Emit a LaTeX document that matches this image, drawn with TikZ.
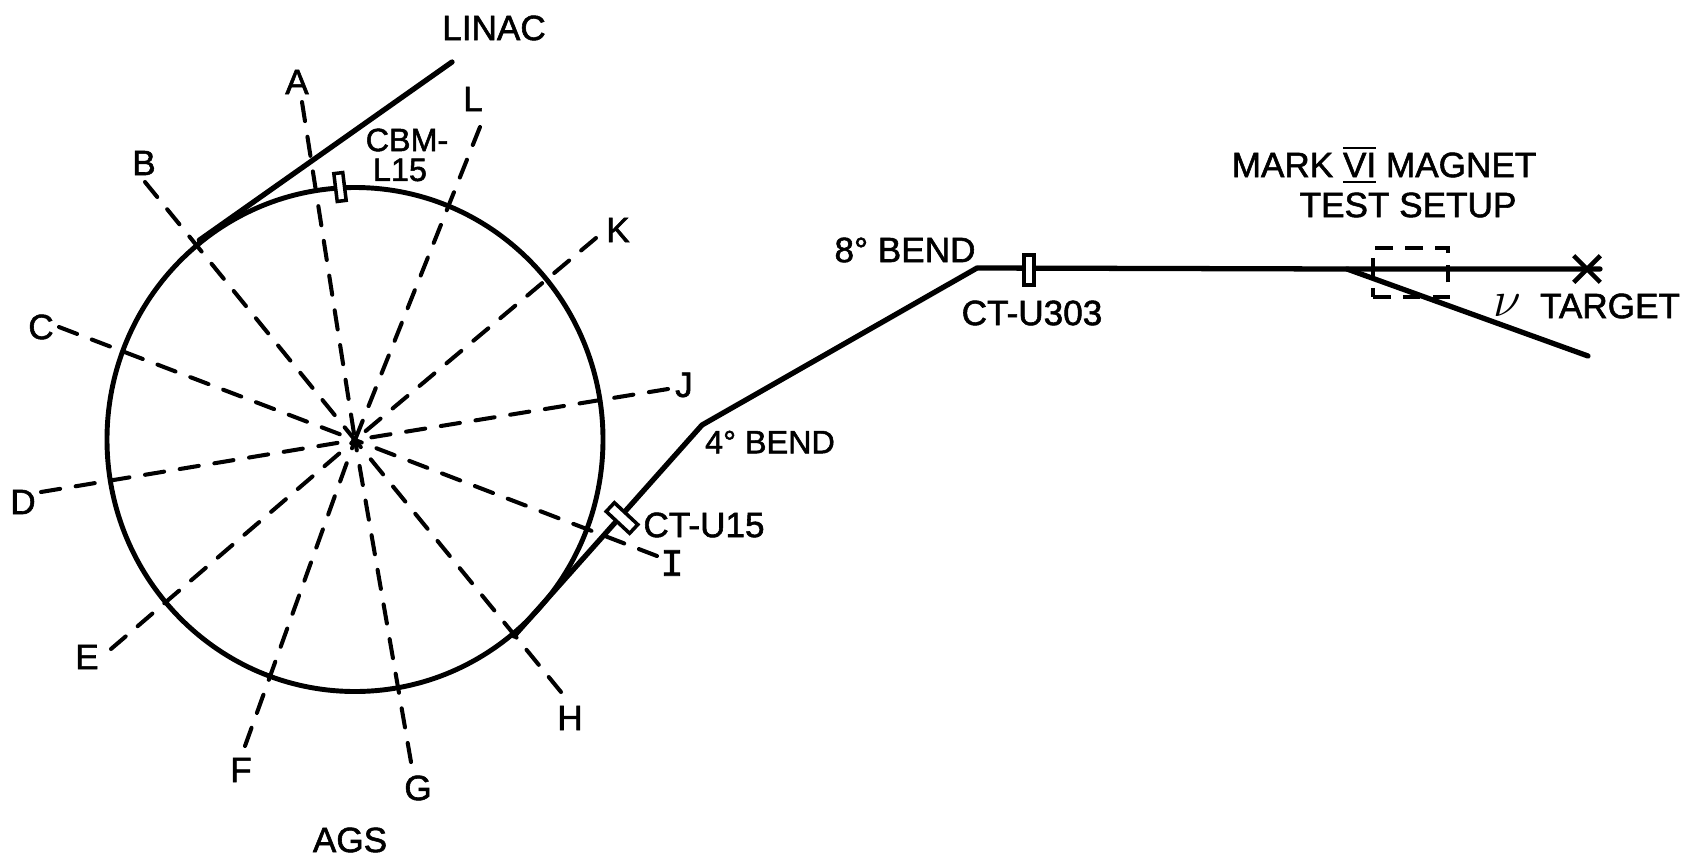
\documentclass[tikz,border=0pt]{standalone}
\usepackage{fontspec}
\setmainfont{Liberation Sans}
\newfontfamily\leroyfont[FakeBold=1.6]{Liberation Sans}
\newfontfamily\slabfont[FakeBold=1.6]{Liberation Mono}
\usetikzlibrary{positioning,shapes.geometric,shapes.misc}
\newcommand{\markvi}{$\overline{\underline{\hbox{VI}}}$}

\begin{document}
\begin{tikzpicture}[
  beam/.style={line width=1.5pt,line cap=round,line join=round,draw=black},
  spoke/.style={line width=1.15pt,line cap=round,dash pattern=on 5.5pt off 4.5pt,draw=black},
  ring/.style={draw=black,ellipse,line width=1.4pt,inner sep=0pt},
  monitor/.style={draw=black,fill=white,line width=1pt,inner sep=0pt},
  tag/.style={inner sep=0pt,font=\leroyfont\fontsize{10}{12}\selectfont,align=center},
  smalltag/.style={tag,font=\leroyfont\fontsize{9.2}{11}\selectfont}
]
\useasboundingbox (0,0) rectangle (16.83,8.59);
\node[ring,minimum width=4.96cm,minimum height=5.04cm] (ags) at (3.55,4.195) {};
\coordinate (hub) at (3.55,4.19);

% spoke ends
\coordinate (endA) at (3.02,7.57);
\coordinate (endB) at (1.45,6.77);
\coordinate (endC) at (0.59,5.32);
\coordinate (endD) at (0.41,3.67);
\coordinate (endE) at (1.11,2.10);
\coordinate (endF) at (2.45,1.13);
\coordinate (endG) at (4.11,0.97);
\coordinate (endH) at (5.61,1.67);
\coordinate (endI) at (6.57,3.03);
\coordinate (endJ) at (6.68,4.70);
\coordinate (endK) at (5.96,6.21);
\coordinate (endL) at (4.80,7.32);
\draw[spoke] (endA) -- (hub);
\draw[spoke] (endB) -- (hub);
\draw[spoke] (endC) -- (hub);
\draw[spoke] (endD) -- (hub);
\draw[spoke] (endE) -- (hub);
\draw[spoke] (endF) -- (hub);
\draw[spoke] (endG) -- (hub);
\draw[spoke] (endH) -- (hub);
\draw[spoke] (endI) -- (hub);
\draw[spoke] (endJ) -- (hub);
\draw[spoke] (endK) -- (hub);
\draw[spoke] (endL) -- (hub);

\node[tag] (labelA) at (2.97,7.77) {A};
\node[tag] (labelB) at (1.44,6.96) {B};
\node[tag] (labelC) at (0.41,5.32) {C};
\node[tag] (labelD) at (0.23,3.57) {D};
\node[tag] (labelE) at (0.87,2.02) {E};
\node[tag] (labelF) at (2.41,0.89) {F};
\node[tag] (labelG) at (4.18,0.71) {G};
\node[tag] (labelH) at (5.70,1.41) {H};
\node[tag,font=\slabfont\fontsize{11}{12}\selectfont] (labelI) at (6.72,2.96) {I};
\node[tag] (labelJ) at (6.84,4.74) {J};
\node[tag] (labelK) at (6.18,6.29) {K};
\node[tag] (labelL) at (4.73,7.60) {L};

% beam lines
\coordinate (linacend) at (4.52,7.97);
\coordinate (bendfour) at (7.02,4.34);
\coordinate (bendeight) at (9.77,5.91);
\coordinate (split) at (13.47,5.90);
\coordinate (straightend) at (16.00,5.90);
\coordinate (deflectend) at (15.88,5.03);
\draw[beam] (linacend) -- (ags.128);
\draw[beam] (ags.-51) -- (bendfour) -- (bendeight) -- (split) -- (straightend);
\draw[beam] (split) -- (deflectend);

\node[monitor,minimum width=0.09cm,minimum height=0.28cm,rotate=7] (cbm) at (3.40,6.72) {};
\node[monitor,minimum width=0.12cm,minimum height=0.32cm,rotate=47] (ctufifteen) at (6.22,3.41) {};
\node[monitor,minimum width=0.10cm,minimum height=0.30cm] (ctuthree) at (10.29,5.89) {};
\node[draw=black,line width=1.4pt,dash pattern=on 5pt off 3.5pt,minimum width=0.75cm,minimum height=0.49cm,inner sep=0pt] (magnet) at (14.105,5.865) {};
\node[draw=black,line width=1.3pt,cross out,minimum size=0.22cm,inner sep=0pt] (target) at (15.87,5.90) {};

\node[tag] (linac) at (4.94,8.31) {LINAC};
\node[tag] (agslabel) at (3.50,0.19) {AGS};
\node[smalltag] (cbmtop) at (4.07,7.19) {CBM-};
\node[smalltag] (cbmbot) at (4.00,6.89) {L15};
\node[tag] (marksix) at (13.84,6.94) {MARK \markvi{} MAGNET};
\node[tag] (testsetup) at (14.08,6.54) {TEST SETUP};
\node[tag] (eightbend) at (9.05,6.09) {8° BEND};
\node[tag] (ctuthreelabel) at (10.32,5.46) {CT-U303};
\node[smalltag] (fourbend) at (7.70,4.17) {4° BEND};
\node[tag] (ctufifteenlabel) at (7.04,3.34) {CT-U15};
\node[tag,font=\fontsize{15}{15}\selectfont] (nu) at (15.07,5.53) {$\nu$};
\node[tag] (targetlabel) at (16.10,5.53) {TARGET};
\end{tikzpicture}
\end{document}
